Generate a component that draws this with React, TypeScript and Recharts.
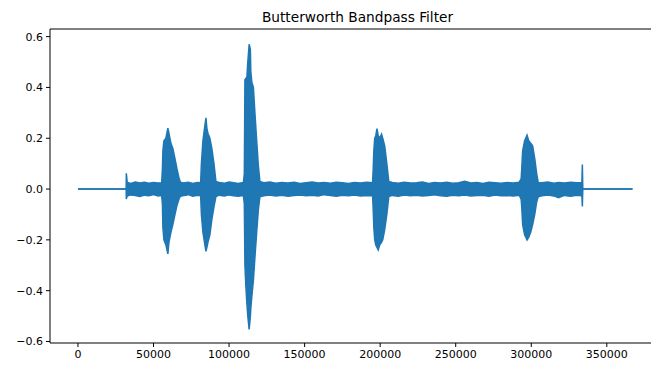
import React from 'react';
import { ComposedChart, Area, XAxis, YAxis, ReferenceLine } from 'recharts';

const chartTitle = 'Butterworth Bandpass Filter';
const xTicks = [0, 50000, 100000, 150000, 200000, 250000, 300000, 350000];
const yTicks = [-0.6, -0.4, -0.2, 0, 0.2, 0.4, 0.6];

// sample index positions along the signal (x) with the read envelope (upper / lower)
const sampleIndex = [
  0, 31900, 32000,
  32600, 35000, 38000, 41000, 44000, 47000, 50000, 53000, 55400,
  55900, 56200, 56900, 58200, 59500, 60200, 61500, 62800, 64200, 65500, 66800, 67800,
  70000, 73000, 76000, 79000, 81200,
  81700, 82700, 84000, 84700, 85300, 86000, 87300, 88600, 90000, 91300,
  93500, 97000, 100000, 103000, 106000, 109500,
  110100, 110500, 111100, 111800, 112400, 113300, 114100, 114400, 115100, 116100, 117100, 118400, 119400, 120400,
  123000, 127000, 131000, 135000, 139000, 143000, 147000, 151000, 155000, 159000, 163000, 167000, 171000, 175000, 179000, 183000, 187000, 191000, 195000,
  195400, 195800, 196400, 197100, 197900, 198700, 199700, 200900, 201700, 203000, 204400, 205700,
  208000, 212000, 216000, 220000, 224000, 228000, 232000, 236000, 240000, 244000, 248000, 252000, 256000, 260000, 264000, 268000, 272000, 276000, 280000, 284000, 288000, 292000,
  293300, 293700, 294300, 295600, 297200, 298300, 299600, 300900, 302300, 303600, 304600,
  307000, 311000, 315000, 318000, 322000, 326000, 330000, 333500,
  333800, 334100, 367000,
];

const upperEnvelope = [
  0, 0, 0.062,
  0.026, 0.022, 0.028, 0.024, 0.027, 0.023, 0.026, 0.024, 0.025,
  0.08, 0.15, 0.19, 0.2, 0.24, 0.22, 0.18, 0.16, 0.12, 0.08, 0.045, 0.027,
  0.024, 0.027, 0.022, 0.026, 0.025,
  0.1, 0.19, 0.25, 0.28, 0.24, 0.22, 0.2, 0.16, 0.1, 0.03,
  0.026, 0.023, 0.028, 0.025, 0.022, 0.026,
  0.06, 0.43, 0.435, 0.44, 0.5, 0.57, 0.55, 0.46, 0.42, 0.4, 0.3, 0.18, 0.09, 0.03,
  0.025, 0.028, 0.023, 0.026, 0.024, 0.027, 0.022, 0.025, 0.028, 0.024, 0.026, 0.023, 0.027, 0.025, 0.022, 0.026, 0.024, 0.027, 0.025,
  0.08, 0.15, 0.2, 0.21, 0.238, 0.21, 0.2, 0.216, 0.2, 0.17, 0.1, 0.03,
  0.026, 0.023, 0.027, 0.024, 0.025, 0.028, 0.022, 0.026, 0.024, 0.027, 0.023, 0.025, 0.031, 0.024, 0.026, 0.022, 0.027, 0.025, 0.023, 0.026, 0.024, 0.027,
  0.04, 0.08, 0.15, 0.19, 0.212, 0.19, 0.18, 0.17, 0.12, 0.06, 0.025,
  0.025, 0.028, 0.023, 0.026, 0.024, 0.027, 0.025, 0.026,
  0.097, 0, 0,
];

const lowerEnvelope = [
  0, 0, -0.039,
  -0.027, -0.023, -0.025, -0.029, -0.024, -0.026, -0.022, -0.027, -0.025,
  -0.06, -0.15, -0.2, -0.22, -0.255, -0.21, -0.17, -0.14, -0.1, -0.065, -0.04, -0.028,
  -0.025, -0.022, -0.028, -0.024, -0.026,
  -0.1, -0.17, -0.22, -0.245, -0.23, -0.21, -0.18, -0.12, -0.07, -0.03,
  -0.024, -0.027, -0.023, -0.026, -0.028, -0.025,
  -0.06, -0.3, -0.38, -0.45, -0.5, -0.553, -0.5, -0.47, -0.42, -0.36, -0.27, -0.16, -0.08, -0.03,
  -0.026, -0.023, -0.027, -0.024, -0.028, -0.025, -0.023, -0.026, -0.024, -0.027, -0.022, -0.025, -0.028, -0.024, -0.026, -0.023, -0.027, -0.025, -0.026,
  -0.08, -0.15, -0.2, -0.22, -0.23, -0.24, -0.22, -0.21, -0.2, -0.16, -0.1, -0.03,
  -0.025, -0.028, -0.023, -0.026, -0.024, -0.027, -0.025, -0.022, -0.026, -0.028, -0.024, -0.026, -0.023, -0.027, -0.025, -0.024, -0.028, -0.023, -0.026, -0.025, -0.027, -0.024,
  -0.04, -0.07, -0.14, -0.18, -0.2, -0.19, -0.17, -0.14, -0.1, -0.05, -0.03,
  -0.026, -0.023, -0.027, -0.034, -0.025, -0.028, -0.024, -0.026,
  -0.069, 0, 0,
];

const data = sampleIndex.map((x, i) => ({ x, band: [lowerEnvelope[i], upperEnvelope[i]] }));

const FONT = '"DejaVu Sans", sans-serif';
const BLUE = '#1f77b4';
const Y_MIN = -0.606;
const Y_MAX = 0.63;

const fmtY = (v: number) => v.toFixed(1).replace('-', '\u2212');

export default function App() {
  return (
    <div style={{ position: 'absolute', left: 0, top: 0, width: 651, height: 367, overflow: 'hidden', background: '#fff' }}>
      <ComposedChart width={680} height={367} data={data} margin={{ top: 29, right: 15, left: 0, bottom: 0 }}>
        <XAxis
          dataKey="x"
          type="number"
          domain={[-18500, 388500]}
          ticks={xTicks}
          allowDataOverflow
          height={24}
          tickSize={4}
          tickMargin={3}
          interval={0}
          stroke="#000"
          tick={{ fill: '#000', fontSize: 11, fontFamily: FONT }}
          tickFormatter={(v: number) => String(v)}
        />
        <YAxis
          type="number"
          domain={[Y_MIN, Y_MAX]}
          ticks={yTicks}
          allowDataOverflow
          width={50}
          tickSize={4}
          tickMargin={3}
          interval={0}
          stroke="#000"
          tick={{ fill: '#000', fontSize: 11, fontFamily: FONT }}
          tickFormatter={fmtY}
        />
        <ReferenceLine y={Y_MAX} stroke="#000" strokeWidth={1} ifOverflow="extendDomain" />
        <Area
          dataKey="band"
          type="linear"
          stroke={BLUE}
          strokeWidth={1.5}
          fill={BLUE}
          fillOpacity={1}
          dot={false}
          activeDot={false}
          isAnimationActive={false}
        />
      </ComposedChart>
      <svg width={651} height={367} style={{ position: 'absolute', left: 0, top: 0, pointerEvents: 'none' }}>
        <text x={357.5} y={22} textAnchor="middle" fontFamily={FONT} fontSize={13.7} fill="#000">
          {chartTitle}
        </text>
      </svg>
    </div>
  );
}
